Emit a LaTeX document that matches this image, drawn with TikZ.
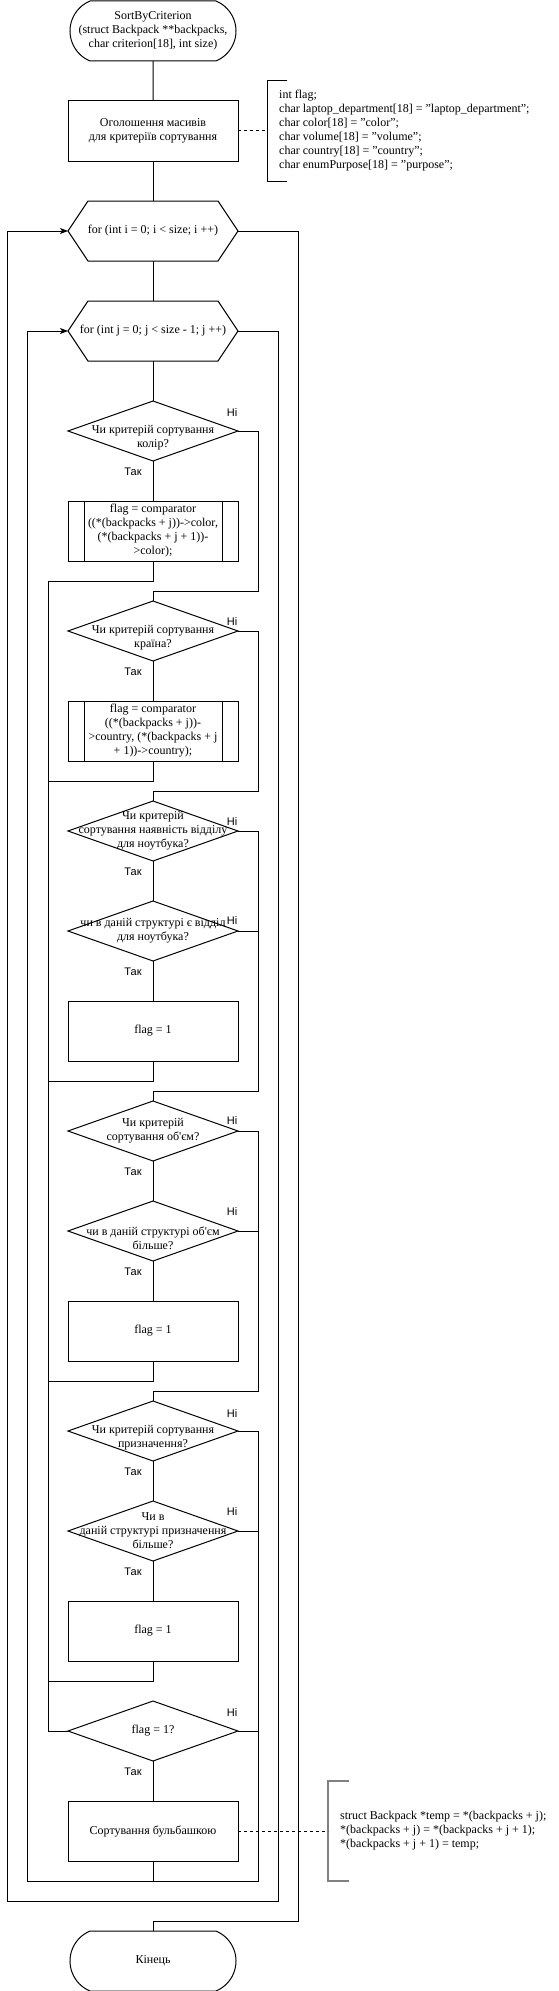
\documentclass[tikz,border=0pt]{standalone}
\usepackage{fontspec}
\setmainfont{Liberation Serif}
\newfontfamily\labelfont{Liberation Sans}
\usepackage{tikz}
\usetikzlibrary{arrows.meta,positioning,shapes.geometric,shapes.misc}
\definecolor{ink}{HTML}{000000}
\definecolor{bracketgray}{HTML}{808080}

\begin{document}
\begin{tikzpicture}[
  x=1pt,y=1pt,
  >={Stealth[length=8pt,width=6pt,inset=2pt]},
  shapebase/.style={draw=ink,line width=1pt,outer sep=0pt,inner sep=2pt,
                    minimum width=170pt,minimum height=60pt,align=center,
                    font=\fontsize{12}{14}\selectfont},
  term/.style={shapebase,rounded rectangle,rounded rectangle arc length=135},
  block/.style={shapebase,rectangle},
  subproc/.style={block,path picture={
      \draw[line width=1pt] ([xshift=16pt]path picture bounding box.north west)
        -- ([xshift=16pt]path picture bounding box.south west);
      \draw[line width=1pt] ([xshift=-16pt]path picture bounding box.north east)
        -- ([xshift=-16pt]path picture bounding box.south east);}},
  loopbox/.style={shapebase,rectangle,draw=none,inner sep=0pt},
  decision/.style={shapebase,diamond,inner sep=0pt},
  dtext/.style={align=center,font=\fontsize{12}{14}\selectfont},
  wire/.style={draw=ink,line width=1pt},
  flow/.style={wire,->},
  yes/.style={font=\labelfont\fontsize{11}{13}\selectfont,at start,xshift=-20pt,yshift=-11pt},
  no/.style={font=\labelfont\fontsize{11}{13}\selectfont,at start,xshift=-6pt},
  note/.style={align=left,anchor=west,minimum height=100pt,inner xsep=12pt,inner ysep=0pt,
               font=\fontsize{12}{14}\selectfont},
  link/.style={wire,dash pattern=on 3pt off 3pt}
]
\useasboundingbox (0,0) rectangle (558,-1991);

% main column
\node[term] (start) at (153,-31) {SortByCriterion\\(struct Backpack **backpacks,\\char criterion[18], int size)};
\node[block,below=40pt of start] (decl) {Оголошення масивів\\для критеріїв сортування};
\node[loopbox,below=40pt of decl] (loopi) {for (int i = 0; i < size; i ++)};
\node[loopbox,below=40pt of loopi] (loopj) {for (int j = 0; j < size - 1; j ++)};
\node[decision,below=40pt of loopj,
      label={[dtext,yshift=-7pt]center:{Чи критерій сортування\\колір?}}] (critcolor) {};
\node[subproc,below=40pt of critcolor] (cmpcolor) {flag = comparator\\((*(backpacks + j))->color,\\(*(backpacks + j + 1))-\\>color);};
\node[decision,below=40pt of cmpcolor,
      label={[dtext,yshift=-7pt]center:{Чи критерій сортування\\країна?}}] (critcountry) {};
\node[subproc,below=40pt of critcountry] (cmpcountry) {flag = comparator\\((*(backpacks + j))-\\>country, (*(backpacks + j\\+ 1))->country);};
\node[decision,below=40pt of cmpcountry,
      label={[dtext]center:{Чи критерій\\сортування наявність відділу\\для ноутбука?}}] (critlaptop) {};
\node[decision,below=40pt of critlaptop,
      label={[dtext]center:{чи в даній структурі є відділ\\для ноутбука?}}] (haslaptop) {};
\node[block,below=40pt of haslaptop] (flaglaptop) {flag = 1};
\node[decision,below=40pt of flaglaptop,
      label={[dtext]center:{Чи критерій\\сортування об\textquotesingle єм?}}] (critvolume) {};
\node[decision,below=40pt of critvolume,
      label={[dtext,yshift=-7pt]center:{чи в даній структурі об\textquotesingle єм\\більше?}}] (morevolume) {};
\node[block,below=40pt of morevolume] (flagvolume) {flag = 1};
\node[decision,below=40pt of flagvolume,
      label={[dtext,yshift=-7pt]center:{Чи критерій сортування\\призначення?}}] (critpurpose) {};
\node[decision,below=40pt of critpurpose,
      label={[dtext]center:{Чи в\\даній структурі призначення\\більше?}}] (morepurpose) {};
\node[block,below=40pt of morepurpose] (flagpurpose) {flag = 1};
\node[decision,below=40pt of flagpurpose,label={[dtext]center:{flag = 1?}}] (checkflag) {};
\node[block,below=40pt of checkflag] (bubble) {Сортування бульбашкою};
\node[term,below=70pt of bubble] (finish) {Кінець};

% loop headers
\foreach \h in {loopi,loopj}
  \draw[wire] (\h.west) -- ([xshift=20pt]\h.north west) -- ([xshift=-20pt]\h.north east)
    -- (\h.east) -- ([xshift=-20pt]\h.south east) -- ([xshift=20pt]\h.south west) -- cycle;

% notes
\node[note,right=29pt of decl] (vars) {int flag;\\char laptop\_department[18] = "laptop\_department";\\char color[18] = "color";\\char volume[18] = "volume";\\char country[18] = "country";\\char enumPurpose[18] = "purpose";};
\draw[wire] ([xshift=20pt]vars.north west) -- (vars.north west) -- (vars.south west) -- ([xshift=20pt]vars.south west);
\draw[link] (decl.east) -- (vars.west);

\node[note,right=90pt of bubble] (swap) {struct Backpack *temp = *(backpacks + j);\\{}*(backpacks + j) = *(backpacks + j + 1);\\{}*(backpacks + j + 1) = temp;};
\draw[wire,draw=bracketgray,line width=2pt] ([xshift=21pt]swap.north west) -- (swap.north west) -- (swap.south west) -- ([xshift=21pt]swap.south west);
\draw[link] (bubble.east) -- (swap.west);

% turning points
\coordinate (jtail) at ([yshift=-20pt]bubble.south);
\coordinate (itail) at ([yshift=-40pt]bubble.south);
\coordinate (exit) at ([yshift=10pt]finish.north);
\coordinate (yeslane) at ([xshift=-20pt]checkflag.west);

% connectors
\draw[wire] (start) -- (decl);
\draw[wire] (decl) -- (loopi);
\draw[wire] (loopi) -- (loopj);
\draw[wire] (loopj) -- (critcolor);
\draw[wire] (critcolor) -- node[yes]{Так} (cmpcolor);
\draw[wire] (critcountry) -- node[yes]{Так} (cmpcountry);
\draw[wire] (critlaptop) -- node[yes]{Так} (haslaptop);
\draw[wire] (haslaptop) -- node[yes]{Так} (flaglaptop);
\draw[wire] (critvolume) -- node[yes]{Так} (morevolume);
\draw[wire] (morevolume) -- node[yes]{Так} (flagvolume);
\draw[wire] (critpurpose) -- node[yes]{Так} (morepurpose);
\draw[wire] (morepurpose) -- node[yes]{Так} (flagpurpose);
\draw[wire] (checkflag) -- node[yes]{Так} (bubble);

\foreach \p in {cmpcolor,cmpcountry,flaglaptop,flagvolume,flagpurpose}
  \draw[wire] (\p.south) -- ++(0,-20pt) -| (yeslane);
\draw[wire] (yeslane) -- (checkflag.west);

\draw[wire] (critcolor.east) -- node[no,yshift=18pt]{Ні} ++(20pt,0) |- ([yshift=10pt]critcountry.north) -- (critcountry.north);
\draw[wire] (critcountry.east) -- node[no,yshift=9pt]{Ні} ++(20pt,0) |- ([yshift=10pt]critlaptop.north) -- (critlaptop.north);
\draw[wire] (critlaptop.east) -- node[no,yshift=9pt]{Ні} ++(20pt,0) |- ([yshift=10pt]critvolume.north) -- (critvolume.north);
\draw[wire] (haslaptop.east) -- node[no,yshift=10pt]{Ні} ++(20pt,0);
\draw[wire] (critvolume.east) -- node[no,yshift=10pt]{Ні} ++(20pt,0) |- ([yshift=10pt]critpurpose.north) -- (critpurpose.north);
\draw[wire] (morevolume.east) -- node[no,yshift=20pt]{Ні} ++(20pt,0);
\draw[wire] (critpurpose.east) -- node[no,yshift=18pt]{Ні} ++(20pt,0) |- (jtail);
\draw[wire] (morepurpose.east) -- node[no,yshift=20pt]{Ні} ++(20pt,0);
\draw[wire] (checkflag.east) -- node[no,yshift=19pt]{Ні} ++(20pt,0);

\draw[flow] (bubble.south) -- (jtail) -| ([xshift=-41pt]loopj.west) -- (loopj.west);
\draw[flow] (loopj.east) -- ++(40pt,0) |- (itail) -| ([xshift=-61pt]loopi.west) -- (loopi.west);
\draw[wire] (loopi.east) -- ++(60pt,0) |- (exit) -- (finish.north);
\end{tikzpicture}
\end{document}
